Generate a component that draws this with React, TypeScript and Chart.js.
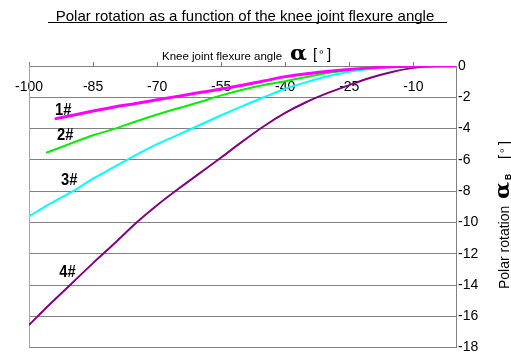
import React, { useEffect, useRef } from 'react';
import { Chart, registerables } from 'chart.js';

Chart.register(...registerables);

// ---- data ----
const series1Angles = [-94, -90, -85, -80, -75, -70, -65, -60, -55, -50, -45, -40, -35, -30, -25, -20, -15, -10, -5, 0];
const series1Rotation = [-3.38, -3.16, -2.88, -2.62, -2.4, -2.16, -1.93, -1.7, -1.47, -1.23, -0.96, -0.68, -0.5, -0.34, -0.22, -0.12, -0.05, -0.01, 0, 0];

const series2Angles = [-96, -95, -90, -85, -80, -75, -70, -65, -60, -55, -50, -45, -40, -35, -30, -25, -20, -15, -10, -5, 0];
const series2Rotation = [-5.55, -5.45, -4.93, -4.43, -4.02, -3.55, -3.1, -2.7, -2.3, -1.88, -1.52, -1.22, -0.97, -0.7, -0.45, -0.26, -0.1, -0.03, 0, 0, 0];

const series3Angles = [-100, -95, -90, -85, -80, -75, -70, -65, -60, -55, -50, -45, -40, -35, -30, -25, -20, -15, -10, -5, 0];
const series3Rotation = [-9.6, -8.8, -8.05, -7.2, -6.45, -5.7, -5.0, -4.39, -3.77, -3.15, -2.56, -2.0, -1.45, -1.03, -0.66, -0.37, -0.18, -0.06, 0, 0, 0];

const series4Angles = [-100, -95, -90, -85, -80, -75, -70, -65, -60, -55, -50, -45, -40, -35, -30, -25, -20, -15, -10, -5, 0];
const series4Rotation = [-16.55, -15.2, -13.9, -12.6, -11.35, -10.05, -8.9, -7.85, -6.85, -5.85, -4.82, -3.85, -3.0, -2.3, -1.72, -1.22, -0.75, -0.38, -0.12, -0.01, 0];

const seriesNames = ['1#', '2#', '3#', '4#'];
const seriesColors = ['#ff00ff', '#00ee00', '#00ffff', '#800080'];
const seriesWidths = [3, 2, 2, 2];
// where the "n#" labels sit, in data units
const labelAngles = [-92, -91.5, -90.6, -91];
const labelRotations = [-2.84, -4.48, -7.32, -13.19];

const xMin = -100;
const xMax = 0;
const xTickValues = [-100, -85, -70, -55, -40, -25, -10];
const yMin = -18;
const yMax = 0;
const yStep = 2;

const chartTitle = 'Polar rotation as a function of the knee joint flexure angle';
const xTitle = 'Knee joint flexure angle';
const yTitle = 'Polar rotation';

const SANS = '"Liberation Sans", Arial, sans-serif';
const GRID = '#808080';

function toPoints(xs: number[], ys: number[]) {
  return xs.map((x, i) => ({ x, y: ys[i] }));
}

function drawAlpha(ctx: CanvasRenderingContext2D, x: number, y: number, width: number) {
  ctx.save();
  ctx.font = 'bold 20px "DejaVu Serif", serif';
  const w = ctx.measureText('α').width;
  ctx.translate(x, y);
  ctx.scale(width / w, 1);
  ctx.fillText('α', 0, 0);
  ctx.restore();
}

const decorPlugin = {
  id: 'decor',
  beforeDatasetsDraw(chart: any) {
    const ctx = chart.ctx;
    const { left, top, bottom } = chart.chartArea;
    ctx.save();
    ctx.strokeStyle = '#a6a6a6';
    ctx.lineWidth = 1;
    ctx.beginPath();
    ctx.moveTo(Math.round(left) + 0.5, top);
    ctx.lineTo(Math.round(left) + 0.5, bottom);
    ctx.stroke();
    ctx.restore();
  },
  afterDraw(chart: any) {
    const ctx = chart.ctx;
    const xs = chart.scales.x;
    const ys = chart.scales.y;
    ctx.save();
    ctx.fillStyle = '#000';
    ctx.textBaseline = 'alphabetic';

    // main title + underline
    ctx.font = `15px ${SANS}`;
    ctx.textAlign = 'center';
    ctx.fillText(chartTitle, 245, 21);
    ctx.fillRect(48, 22, 399, 1);

    // x axis title
    ctx.textAlign = 'left';
    ctx.font = `11.5px ${SANS}`;
    ctx.fillText(xTitle, 162, 60);
    drawAlpha(ctx, 290, 60, 17);
    ctx.font = `15px ${SANS}`;
    ctx.fillText('[', 313, 59);
    ctx.fillText(']', 327, 59);
    ctx.font = `10px ${SANS}`;
    ctx.fillText('º', 319.5, 57);

    // y axis title (rotated)
    ctx.save();
    ctx.translate(508.5, 289);
    ctx.rotate(-Math.PI / 2);
    ctx.font = `14px ${SANS}`;
    ctx.fillText(yTitle, 0, 0);
    drawAlpha(ctx, 90, 0.5, 17);
    ctx.font = `bold 8.5px ${SANS}`;
    ctx.fillText('B', 109, 2.5);
    ctx.font = `15px ${SANS}`;
    ctx.fillText('[', 130, 0);
    ctx.fillText(']', 144, 0);
    ctx.font = `10px ${SANS}`;
    ctx.fillText('º', 136.5, -2);
    ctx.restore();

    // series labels
    ctx.font = `bold 16px ${SANS}`;
    ctx.textAlign = 'center';
    ctx.textBaseline = 'middle';
    seriesNames.forEach((name, i) => {
      const px = xs.getPixelForValue(labelAngles[i]);
      const py = ys.getPixelForValue(labelRotations[i]);
      ctx.save();
      ctx.translate(px, py);
      ctx.scale(0.92, 1);
      ctx.fillText(name, 0, 0);
      ctx.restore();
    });
    ctx.restore();
  },
};

export default function App() {
  const canvasRef = useRef<HTMLCanvasElement | null>(null);

  useEffect(() => {
    const canvas = canvasRef.current;
    if (!canvas) return;
    const allX = [series1Angles, series2Angles, series3Angles, series4Angles];
    const allY = [series1Rotation, series2Rotation, series3Rotation, series4Rotation];
    const chart = new Chart(canvas, {
      type: 'line',
      data: {
        datasets: seriesNames.map((name, i) => ({
          label: name,
          data: toPoints(allX[i], allY[i]),
          borderColor: seriesColors[i],
          backgroundColor: seriesColors[i],
          borderWidth: seriesWidths[i],
          pointRadius: 0,
          cubicInterpolationMode: 'monotone' as const,
          fill: false,
        })),
      },
      options: {
        responsive: false,
        animation: false,
        events: [],
        layout: { padding: { left: 29, top: 56, right: 0, bottom: 7 } },
        plugins: {
          legend: { display: false },
          title: { display: false },
          tooltip: { enabled: false },
        },
        scales: {
          x: {
            type: 'linear',
            position: 'top',
            min: xMin,
            max: xMax,
            afterBuildTicks: (s: any) => {
              s.ticks = xTickValues.map((v) => ({ value: v }));
            },
            afterFit: (s: any) => {
              s.height = 10;
            },
            ticks: {
              autoSkip: false,
              maxRotation: 0,
              mirror: true,
              padding: 13,
              color: '#000',
              font: { family: SANS, size: 14 },
            },
            grid: {
              drawOnChartArea: false,
              drawTicks: true,
              tickLength: 4,
              color: GRID,
            },
            border: { display: true, color: GRID },
          },
          y: {
            type: 'linear',
            position: 'right',
            min: yMin,
            max: yMax,
            afterFit: (s: any) => {
              s.width = 55;
            },
            ticks: {
              stepSize: yStep,
              padding: 2,
              color: '#000',
              font: { family: SANS, size: 14 },
            },
            grid: {
              drawTicks: false,
              color: GRID,
            },
            border: { display: true, color: GRID },
          },
        },
      },
      plugins: [decorPlugin],
    });
    return () => chart.destroy();
  }, []);

  return (
    <div style={{ position: 'absolute', left: 0, top: 0, width: 511, height: 358, background: '#fff' }}>
      <canvas ref={canvasRef} width={511} height={358} style={{ display: 'block' }} />
    </div>
  );
}
